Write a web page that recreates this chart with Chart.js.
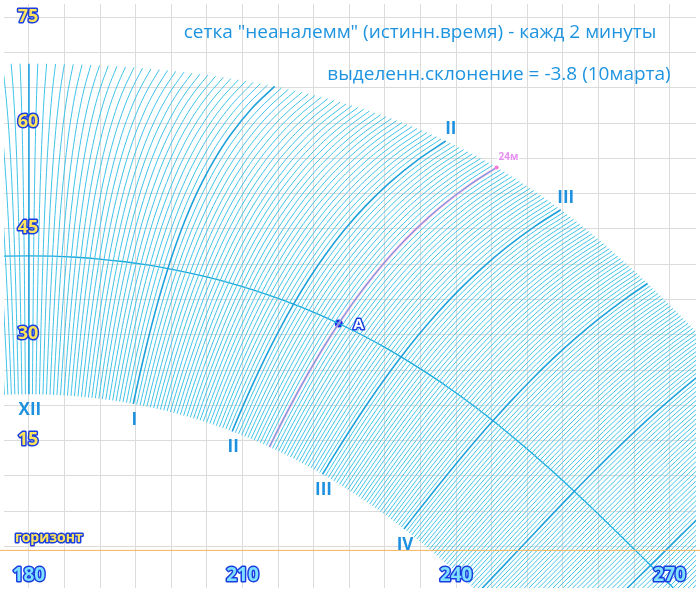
<!DOCTYPE html>
<html>
<head>
<meta charset="utf-8">
<script src="https://cdn.jsdelivr.net/npm/chart.js@4.4.1/dist/chart.umd.min.js"></script>
<style>
  html, body { margin: 0; padding: 0; background: #fff; }
  #wrap { width: 700px; height: 592px; }
</style>
</head>
<body>
<div id="wrap"><canvas id="grid"></canvas></div>
<script>
// Site latitude and grid definition
const latitude = 45;
const declinationNodes = [-23.44, -20, -16, -12, -8, -4, 0, 4, 8, 12, 16, 20, 23.44];
const hoursDrawn = [-1, 0, 1, 2, 3, 4, 5, 6, 7];
const minuteStep = 2;
const markedDeclination = -3.8;
const markedTime = { hour: 2, minute: 24 };
const bottomHourLabels = ['XII', 'I', 'II', 'III', 'IV'];
const topHourLabels = [{ hour: 2, text: 'II' }, { hour: 3, text: 'III' }];
const xTickLabels = [180, 210, 240, 270];
const yTickLabels = [15, 30, 45, 60, 75];

// hour angle (deg) + declination -> azimuth (from north) / altitude
function toHorizon(H, dec) {
    const r = Math.PI / 180;
    const f = latitude * r, d = dec * r, h = H * r;
    const sinAlt = Math.sin(f) * Math.sin(d) + Math.cos(f) * Math.cos(d) * Math.cos(h);
    const alt = Math.asin(sinAlt) / r;
    const az = Math.atan2(Math.sin(h), Math.cos(h) * Math.sin(f) - Math.tan(d) * Math.cos(f)) / r;
    return { x: 180 + az, y: alt };
}

const datasets = [];

// hour lines every 2 minutes
hoursDrawn.forEach(hr => {
    for (let m = 0; m < 60; m += minuteStep) {
        const H = (hr + m / 60) * 15;
        const isHour = m === 0;
        datasets.push({
            data: declinationNodes.map(d => toHorizon(H, d)),
            borderColor: isHour ? '#1ea2dc' : '#3fc3e8',
            borderWidth: isHour ? 1.6 : 1,
            tension: 0.4,
            pointRadius: 0
        });
    }
});

// highlighted time line (2h24m)
const markedH = (markedTime.hour + markedTime.minute / 60) * 15;
datasets.push({
    data: declinationNodes.map(d => toHorizon(markedH, d)),
    borderColor: '#f57ad6',
    borderWidth: 2,
    tension: 0.4,
    pointRadius: 0
});

// highlighted declination line
const decMinutes = [];
for (let m = -90; m <= 480; m += 10) decMinutes.push(m);
datasets.push({
    data: decMinutes.map(m => toHorizon(m / 4, markedDeclination)),
    borderColor: '#1aa8dc',
    borderWidth: 1.3,
    tension: 0.4,
    pointRadius: 0
});

// point A
datasets.push({
    data: [toHorizon(markedH, markedDeclination)],
    pointRadius: 4,
    pointBackgroundColor: '#1a2be6',
    pointBorderWidth: 0,
    showLine: false
});

function outlined(ctx, text, x, y, fill, stroke, font, align) {
    ctx.font = font;
    ctx.textAlign = align || 'center';
    ctx.textBaseline = 'middle';
    ctx.lineJoin = 'round';
    ctx.lineWidth = 3;
    ctx.strokeStyle = stroke;
    ctx.strokeText(text, x, y);
    ctx.fillStyle = fill;
    ctx.fillText(text, x, y);
}

const labelsPlugin = {
    id: 'labels',
    afterDatasetsDraw(chart) {
        const ctx = chart.ctx;
        const xs = chart.scales.x, ys = chart.scales.y;
        const px = p => ({ x: xs.getPixelForValue(p.x), y: ys.getPixelForValue(p.y) });
        ctx.save();

        // horizon
        const hy = ys.getPixelForValue(0) + 4;
        ctx.strokeStyle = '#f4b25a';
        ctx.lineWidth = 1;
        ctx.beginPath(); ctx.moveTo(0, hy); ctx.lineTo(700, hy); ctx.stroke();
        outlined(ctx, 'горизонт', 15, hy - 12, '#ffe45c', '#1a3de0', 'bold 14px "Open Sans"', 'left');

        // axis numbers
        xTickLabels.forEach(v => outlined(ctx, String(v), xs.getPixelForValue(v), hy + 25, '#7fe0ff', '#1a3de0', 'bold 19px "Open Sans"'));
        yTickLabels.forEach(v => outlined(ctx, String(v), 28, ys.getPixelForValue(v) - 1, '#ffe45c', '#1a3de0', 'bold 18px "Open Sans"'));

        // hour labels
        ctx.font = 'bold 17px "Open Sans"';
        bottomHourLabels.forEach((t, i) => {
            const p = px(toHorizon(i * 15, -23.44));
            ctx.fillStyle = '#1e90e0'; ctx.textAlign = 'center'; ctx.textBaseline = 'middle';
            ctx.fillText(t, p.x + 1, p.y + 16);
        });
        topHourLabels.forEach(o => {
            const p = px(toHorizon(o.hour * 15, 23.44));
            ctx.fillStyle = '#1e90e0';
            ctx.fillText(o.text, p.x + 5, p.y - 12);
        });

        // 24m label
        const pt = px(toHorizon(markedH, 23.44));
        ctx.beginPath(); ctx.arc(pt.x, pt.y, 2, 0, Math.PI * 2); ctx.fillStyle = '#f57ad6'; ctx.fill();
        outlined(ctx, '24м', pt.x + 2, pt.y - 10, '#e590f0', '#fff', 'bold 10px "Open Sans"', 'left');

        // A
        const pa = px(toHorizon(markedH, markedDeclination));
        outlined(ctx, 'A', pa.x + 20, pa.y + 1, '#ffffff', '#1a3de0', 'bold 15px "Open Sans"');

        // titles
        ctx.fillStyle = '#1e94e0';
        ctx.font = '19px "Open Sans"';
        ctx.textAlign = 'center';
        ctx.textBaseline = 'middle';
        ctx.fillText('сетка "неаналемм" (истинн.время) - кажд 2 минуты', 420, 33);
        ctx.fillText('выделенн.склонение = -3.8 (10марта)', 499, 75);
        ctx.restore();
    }
};

new Chart(document.getElementById('grid'), {
    type: 'line',
    data: { datasets: datasets },
    plugins: [labelsPlugin],
    options: {
        responsive: true,
        maintainAspectRatio: false,
        animation: false,
        layout: { padding: 0 },
        plugins: { legend: { display: false }, tooltip: { enabled: false } },
        scales: {
            x: {
                type: 'linear', min: 176.5, max: 273.7,
                ticks: { display: false, stepSize: 5 },
                grid: { color: '#dcdcdc', drawTicks: false },
                border: { display: false },
                afterBuildTicks: s => { s.ticks = []; for (let v = 180; v <= 270; v += 5) s.ticks.push({ value: v }); }
            },
            y: {
                type: 'linear', min: -5.9, max: 76.9,
                ticks: { display: false, stepSize: 5 },
                grid: { color: '#dcdcdc', drawTicks: false },
                border: { display: false },
                afterBuildTicks: s => { s.ticks = []; for (let v = 0; v <= 75; v += 5) s.ticks.push({ value: v }); }
            }
        }
    }
});
</script>
</body>
</html>
